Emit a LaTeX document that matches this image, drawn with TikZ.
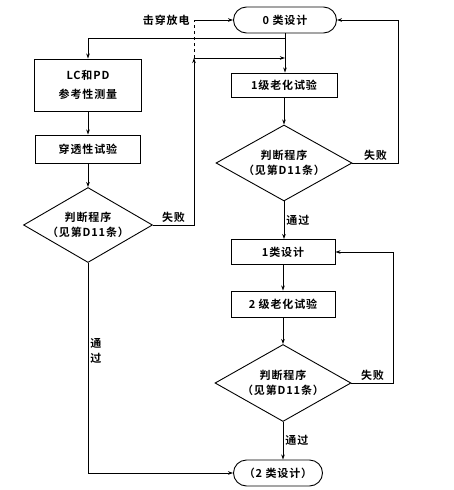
\documentclass[tikz,border=0pt]{standalone}
\usepackage{fontspec}
\setmainfont{Noto Sans CJK SC}[BoldFont={Noto Sans CJK SC Bold},LetterSpace=8]
\usetikzlibrary{positioning,shapes.geometric,shapes.misc,arrows.meta}

\tikzset{
  box/.style={draw, rectangle, inner sep=1pt, align=center},
  stadium/.style={draw, rounded rectangle, inner sep=1pt, align=center},
  judge/.style={draw, diamond, aspect=1.7, inner sep=0pt, align=center},
  lbl/.style={inner sep=2pt, align=center}
}

\begin{document}
\begin{tikzpicture}[x=1pt,y=-1pt, line width=0.9pt,
    font=\fontsize{11}{15}\selectfont\bfseries,
    >={Stealth[length=5pt,width=3.5pt]}]
  \useasboundingbox (0,0) rectangle (453,490);

  % right column
  \node[stadium, minimum width=105pt, minimum height=26pt] (d0) at (285,20) {0 类设计};
  \node[box, minimum width=106pt, minimum height=24pt] (ag1) at (284,85) {1级老化试验};
  \node[judge, minimum width=136pt, minimum height=76pt] (j2) at (284,163) {判断程序\\（见第D11条）};
  \node[box, minimum width=104pt, minimum height=25pt] (d1) at (283,252) {1类设计};
  \node[box, minimum width=104pt, minimum height=26pt] (ag2) at (283,304) {2 级老化试验};
  \node[judge, minimum width=136pt, minimum height=77pt] (j3) at (283,383) {判断程序\\（见第D11条）};
  \node[stadium, minimum width=91pt, minimum height=26pt] (d2) at (278,473) {（2 类设计）};

  % left column
  \node[box, minimum width=107pt, minimum height=52pt] (lcpd) at (88,85) {LC和PD\\[4pt]参考性测量};
  \node[box, minimum width=105pt, minimum height=28pt] (ctx) at (88,149) {穿透性试验};
  \node[judge, minimum width=129pt, minimum height=75pt] (j1) at (88,225) {判断程序\\（见第D11条）};

  \coordinate (fork) at (d0.south |- 0,38);
  \coordinate (kL) at (194,58);
  \coordinate (kT) at (194,20);
  \node[lbl, left=2pt of kT] (brk) {击穿放电};

  \draw[->] (d0.south) -- (d0.south |- ag1.north);
  \draw[->] (fork) -| (lcpd.north);
  \draw[->] (lcpd) -- (ctx);
  \draw[->] (ctx) -- (j1);
  \draw[->] (ag1) -- (ag1 |- j2.north);
  \draw[->] (j2.south) -- node[lbl, right] {通过} (j2.south |- d1.north);
  \draw[->] (d1) -- (ag2);
  \draw[->] (ag2) -- (j3);
  \draw[->] (j3.south) -- node[lbl, right] {通过} (j3.south |- d2.north);

  % fail loops
  \draw[->] (j1.east) -- node[lbl, above] {失败} (j1.east -| kL) -- (kL);
  \draw[->] (kL) -- (kL -| d0.south);
  \draw[dashed] (kL) -- (kT);
  \draw[->] (kT) -- (d0.west);
  \draw[->] (j2.east) -- node[lbl, above] {失败} ++(46,0) |- (d0.east);
  \draw[->] (j3.east) -- node[lbl, above] {失败} ++(42,0) |- (d1.east);
  \draw[->] (j1.south) |- node[lbl, right, pos=0.21] {通\\过} (d2.west);
\end{tikzpicture}
\end{document}
